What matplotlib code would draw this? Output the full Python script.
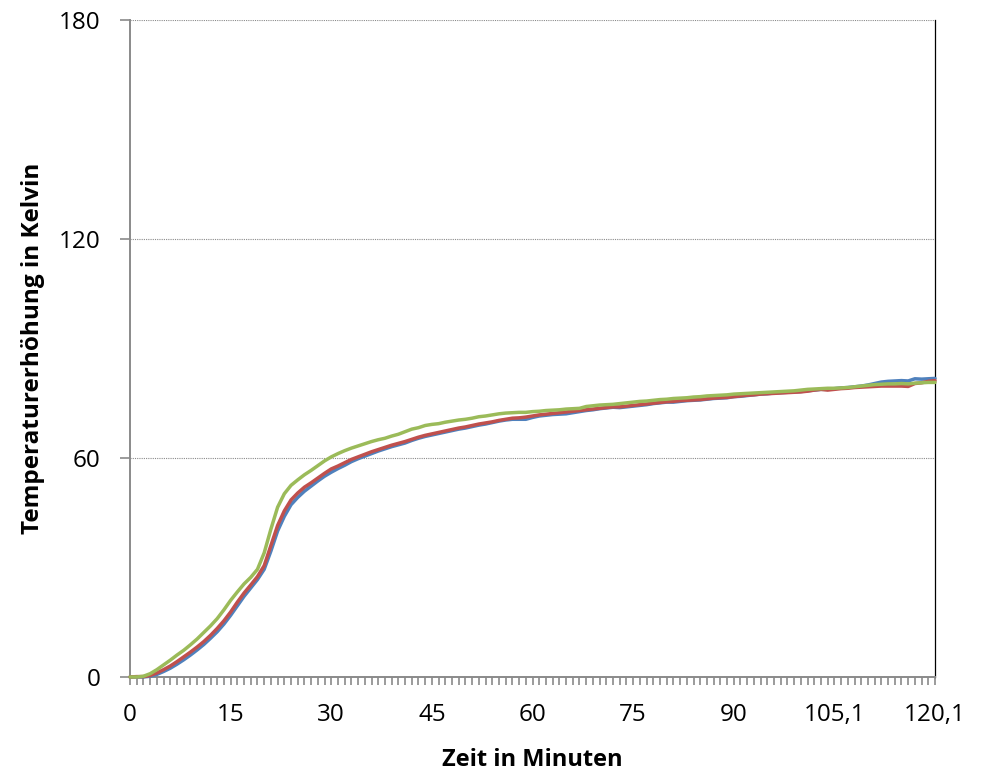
import numpy as np
import matplotlib.pyplot as plt

plt.rcParams['font.family'] = ['Open Sans', 'DejaVu Sans']

# Zeit in Minuten (Kategorien, eine pro Minute)
zeit = list(range(121))
tick_text = {0: "0", 15: "15", 30: "30", 45: "45", 60: "60", 75: "75",
             90: "90", 105: "105,1", 120: "120,1"}

blau = [0, 0, 0, 0.2, 0.7, 1.5, 2.4, 3.5, 4.7, 6.0,
        7.4, 8.9, 10.6, 12.4, 14.5, 16.9, 19.5, 22.1, 24.4, 26.7,
        29.5, 34.5, 40.0, 44.0, 47.2, 49.2, 50.9, 52.3, 53.7, 55.0,
        56.1, 57.1, 58.0, 59.0, 59.8, 60.5, 61.2, 61.9, 62.5, 63.1,
        63.6, 64.1, 64.8, 65.4, 65.9, 66.3, 66.7, 67.1, 67.5, 67.9,
        68.2, 68.6, 69.0, 69.3, 69.7, 70.1, 70.4, 70.6, 70.6, 70.6,
        71.1, 71.5, 71.7, 71.9, 72.0, 72.1, 72.4, 72.7, 73.0, 73.2,
        73.5, 73.7, 73.9, 73.8, 74.0, 74.2, 74.4, 74.6, 74.9, 75.1,
        75.3, 75.3, 75.5, 75.7, 75.8, 75.9, 76.1, 76.3, 76.4, 76.5,
        76.8, 76.9, 77.1, 77.3, 77.5, 77.6, 77.8, 77.9, 78.0, 78.1,
        78.2, 78.4, 78.6, 78.8, 78.8, 79.0, 79.2, 79.3, 79.5, 79.7,
        80.0, 80.4, 80.8, 81.0, 81.1, 81.2, 81.1, 81.7, 81.6, 81.7,
        81.8]

rot = [0, 0.1, 0.1, 0.4, 1.1, 2.0, 3.0, 4.2, 5.5, 6.8,
       8.2, 9.7, 11.4, 13.3, 15.4, 17.8, 20.5, 23.0, 25.2, 27.5,
       30.5, 36.0, 41.5, 45.5, 48.5, 50.4, 52.0, 53.2, 54.5, 55.8,
       57.0, 57.8, 58.7, 59.6, 60.3, 61.0, 61.7, 62.3, 62.9, 63.5,
       64.0, 64.5, 65.1, 65.7, 66.2, 66.6, 67.0, 67.4, 67.8, 68.2,
       68.5, 68.9, 69.3, 69.6, 69.9, 70.3, 70.6, 70.9, 71.0, 71.2,
       71.5, 71.8, 72.0, 72.2, 72.4, 72.6, 72.8, 73.0, 73.2, 73.4,
       73.6, 73.8, 74.0, 74.0, 74.2, 74.4, 74.6, 74.8, 75.0, 75.2,
       75.4, 75.5, 75.7, 75.8, 75.9, 76.0, 76.2, 76.4, 76.5, 76.6,
       76.8, 77.0, 77.2, 77.3, 77.5, 77.6, 77.7, 77.8, 77.9, 78.0,
       78.1, 78.3, 78.6, 78.8, 78.6, 78.8, 79.0, 79.1, 79.3, 79.4,
       79.5, 79.6, 79.7, 79.7, 79.7, 79.7, 79.6, 80.4, 80.6, 81.0,
       81.2]

gruen = [0, 0, 0.2, 0.9, 2.0, 3.3, 4.6, 6.0, 7.3, 8.8,
         10.4, 12.2, 14.0, 16.0, 18.4, 21.0, 23.3, 25.5, 27.3, 29.5,
         34.0, 40.5, 46.5, 50.2, 52.5, 54.0, 55.4, 56.6, 57.9, 59.2,
         60.3, 61.2, 62.0, 62.7, 63.3, 63.9, 64.5, 65.0, 65.4, 66.0,
         66.5, 67.2, 67.9, 68.3, 68.9, 69.2, 69.4, 69.8, 70.1, 70.4,
         70.6, 70.9, 71.3, 71.5, 71.8, 72.1, 72.3, 72.4, 72.5, 72.5,
         72.7, 72.8, 73.0, 73.1, 73.2, 73.4, 73.5, 73.6, 74.1, 74.3,
         74.5, 74.6, 74.7, 74.9, 75.1, 75.3, 75.5, 75.6, 75.8, 76.0,
         76.1, 76.3, 76.4, 76.5, 76.7, 76.8, 77.0, 77.1, 77.2, 77.3,
         77.5, 77.6, 77.7, 77.8, 77.9, 78.0, 78.1, 78.2, 78.3, 78.4,
         78.6, 78.8, 78.9, 79.0, 79.1, 79.1, 79.2, 79.3, 79.5, 79.7,
         79.9, 80.1, 80.2, 80.3, 80.3, 80.4, 80.3, 80.5, 80.6, 80.7,
         80.7]

fig = plt.figure(figsize=(9.91, 7.72), dpi=100)
ax = fig.add_axes([0.1312, 0.1231, 0.8123, 0.851])

for werte, farbe in [(blau, '#4F81BD'), (rot, '#C0504D'), (gruen, '#9BBB59')]:
    ax.plot(zeit, werte, color=farbe, lw=2.5, solid_joinstyle='round',
            solid_capstyle='round', zorder=3, clip_on=False)

ax.set_xlim(0, 120)
ax.set_ylim(0, 180)
ax.set_yticks([0, 60, 120, 180])
ax.set_xticks(zeit)
ax.set_xticklabels([tick_text.get(z, "") for z in zeit])

ax.grid(axis='y', color='#8a8a8a', ls=(0, (1, 1)), lw=0.8, zorder=1)
ax.grid(axis='x', visible=False)

ax.spines['top'].set_visible(False)
ax.spines['left'].set_color('#8a8a8a')
ax.spines['left'].set_linewidth(1.4)
ax.spines['bottom'].set_color('#8a8a8a')
ax.spines['bottom'].set_linewidth(1.4)
ax.spines['right'].set_color('#000000')
ax.spines['right'].set_linewidth(0.9)

ax.tick_params(axis='x', direction='out', length=6, width=1.2, color='#8a8a8a',
               pad=13, labelsize=17.5, labelcolor='black')
ax.tick_params(axis='y', direction='out', length=7, width=1.2, color='#8a8a8a',
               pad=14, labelsize=17.5, labelcolor='black')

ax.set_xlabel("Zeit in Minuten", fontsize=17, fontweight='bold', labelpad=15)
ax.set_ylabel("Temperaturerhöhung in Kelvin", fontsize=17.5, fontweight='bold',
              labelpad=10)

fig.savefig("out.png", dpi=100)
